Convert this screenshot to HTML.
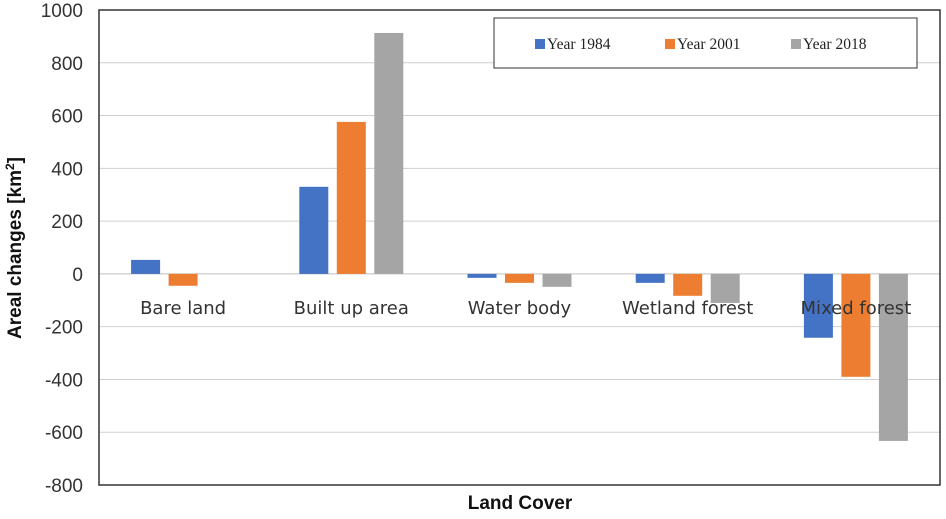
<!DOCTYPE html>
<html><head><meta charset="utf-8"><style>
body{margin:0;background:#fff}
svg text{font-family:"Liberation Sans",sans-serif}
</style></head><body>
<svg id="c" width="946" height="514" xmlns="http://www.w3.org/2000/svg"></svg>
<script>
const categories=["Bare land","Built up area","Water body","Wetland forest","Mixed forest"];
const seriesNames=["Year 1984","Year 2001","Year 2018"];
const y1984=[53,330,-15,-34,-242];
const y2001=[-45,576,-34,-83,-390];
const y2018=[0,913,-49,-110,-633];
const yTicks=[1000,800,600,400,200,0,-200,-400,-600,-800];
const colors=["#4472c4","#ed7d31","#a5a5a5"];
const svg=document.getElementById('c');
const NS="http://www.w3.org/2000/svg";
const L=99,R=940,T=10,B=485;
function y(v){return T+(1000-v)/1800*(B-T);}
function gx(i){return L+(i+0.5)*(R-L)/categories.length;}
function el(t,a,p){const e=document.createElementNS(NS,t);for(const k in a)e.setAttribute(k,a[k]);(p||svg).appendChild(e);return e;}
yTicks.forEach(t=>{
 const g=el('line',{x1:L,x2:R,y1:y(t),y2:y(t),stroke:t===0?'#bfbfbf':'#d0d0d0','stroke-width':1});
 
 
 const tx=el('text',{x:83,y:y(t)+7,'text-anchor':'end','font-size':19,fill:'#333'});
 tx.textContent=t;
 
 
});
const frame=el('rect',{x:L,y:T,width:R-L,height:B-T,fill:'none',stroke:'#333','stroke-width':1.5});


const series=[y1984,y2001,y2018];
const bw=29,step=37.5;
categories.forEach((c,i)=>{
 series.forEach((s,j)=>{
  const v=s[i];const x=gx(i)+(j-1)*step-bw/2;
  const r=el('rect',{x:x,y:Math.min(y(v),y(0)),width:bw,height:Math.abs(y(v)-y(0)),fill:colors[j]});
  
  
 });
 const t=el('text',{x:gx(i),y:314,'text-anchor':'middle','font-size':18,fill:'#333',style:'font-family:"DejaVu Sans",sans-serif'});
 t.textContent=c;
 
 
});
const lg=el('g',{});


el('rect',{x:494,y:18,width:423,height:50,fill:'#fff',stroke:'#333','stroke-width':1},lg);
const lx=[535,665,791];
seriesNames.forEach((n,j)=>{
 const s=el('rect',{x:lx[j],y:39,width:10,height:10,fill:colors[j]},lg);
 
 
 const t=el('text',{x:lx[j]+12,y:49,'font-size':15.5,fill:'#222',style:'font-family:"Liberation Serif",serif'},lg);
 t.textContent=n;
 
 
});
const yt=el('text',{x:0,y:0,'font-size':19,'font-weight':'bold',fill:'#111','text-anchor':'middle',transform:'translate(21,248) rotate(-90)'});
yt.innerHTML='Areal changes [km<tspan dy="-7" font-size="12">2</tspan><tspan dy="7">]</tspan>';


const xt=el('text',{x:520,y:509,'font-size':19,'font-weight':'bold',fill:'#111','text-anchor':'middle'});
xt.textContent='Land Cover';


</script>
</body></html>
